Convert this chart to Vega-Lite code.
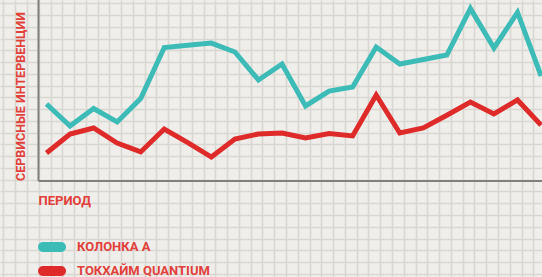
{
  "$schema": "https://vega.github.io/schema/vega-lite/v6.json",
  "width": 542,
  "height": 277,
  "autosize": "none",
  "padding": 0,
  "background": "#efeeeb",
  "config": {
    "view": {"stroke": null},
    "font": "Roboto"
  },
  "data": {
    "values": [
      {"period": 1, "series": "КОЛОНКА А", "value": 6.55},
      {"period": 2, "series": "КОЛОНКА А", "value": 4.68},
      {"period": 3, "series": "КОЛОНКА А", "value": 6.16},
      {"period": 4, "series": "КОЛОНКА А", "value": 5.02},
      {"period": 5, "series": "КОЛОНКА А", "value": 7.02},
      {"period": 6, "series": "КОЛОНКА А", "value": 11.35},
      {"period": 7, "series": "КОЛОНКА А", "value": 11.54},
      {"period": 8, "series": "КОЛОНКА А", "value": 11.73},
      {"period": 9, "series": "КОЛОНКА А", "value": 10.97},
      {"period": 10, "series": "КОЛОНКА А", "value": 8.59},
      {"period": 11, "series": "КОЛОНКА А", "value": 9.95},
      {"period": 12, "series": "КОЛОНКА А", "value": 6.38},
      {"period": 13, "series": "КОЛОНКА А", "value": 7.65},
      {"period": 14, "series": "КОЛОНКА А", "value": 7.99},
      {"period": 15, "series": "КОЛОНКА А", "value": 11.39},
      {"period": 16, "series": "КОЛОНКА А", "value": 9.95},
      {"period": 17, "series": "КОЛОНКА А", "value": 10.33},
      {"period": 18, "series": "КОЛОНКА А", "value": 10.71},
      {"period": 19, "series": "КОЛОНКА А", "value": 14.67},
      {"period": 20, "series": "КОЛОНКА А", "value": 11.31},
      {"period": 21, "series": "КОЛОНКА А", "value": 14.33},
      {"period": 22, "series": "КОЛОНКА А", "value": 8.93},
      {"period": 1, "series": "ТОКХАЙМ QUANTIUM", "value": 2.38},
      {"period": 2, "series": "ТОКХАЙМ QUANTIUM", "value": 4.0},
      {"period": 3, "series": "ТОКХАЙМ QUANTIUM", "value": 4.51},
      {"period": 4, "series": "ТОКХАЙМ QUANTIUM", "value": 3.23},
      {"period": 5, "series": "ТОКХАЙМ QUANTIUM", "value": 2.47},
      {"period": 6, "series": "ТОКХАЙМ QUANTIUM", "value": 4.42},
      {"period": 7, "series": "ТОКХАЙМ QUANTIUM", "value": 3.26},
      {"period": 8, "series": "ТОКХАЙМ QUANTIUM", "value": 2.04},
      {"period": 9, "series": "ТОКХАЙМ QUANTIUM", "value": 3.57},
      {"period": 10, "series": "ТОКХАЙМ QUANTIUM", "value": 4.0},
      {"period": 11, "series": "ТОКХАЙМ QUANTIUM", "value": 4.08},
      {"period": 12, "series": "ТОКХАЙМ QUANTIUM", "value": 3.66},
      {"period": 13, "series": "ТОКХАЙМ QUANTIUM", "value": 4.04},
      {"period": 14, "series": "ТОКХАЙМ QUANTIUM", "value": 3.83},
      {"period": 15, "series": "ТОКХАЙМ QUANTIUM", "value": 7.31},
      {"period": 16, "series": "ТОКХАЙМ QUANTIUM", "value": 4.08},
      {"period": 17, "series": "ТОКХАЙМ QUANTIUM", "value": 4.51},
      {"period": 18, "series": "ТОКХАЙМ QUANTIUM", "value": 5.59},
      {"period": 19, "series": "ТОКХАЙМ QUANTIUM", "value": 6.72},
      {"period": 20, "series": "ТОКХАЙМ QUANTIUM", "value": 5.70},
      {"period": 21, "series": "ТОКХАЙМ QUANTIUM", "value": 6.89},
      {"period": 22, "series": "ТОКХАЙМ QUANTIUM", "value": 4.76}
    ]
  },
  "layer": [
    {
      "mark": {"type": "line", "strokeWidth": 5, "strokeJoin": "miter", "strokeMiterLimit": 3},
      "encoding": {
        "x": {
          "field": "period",
          "type": "quantitative",
          "scale": {"domain": [-0.9745, 22.04], "nice": false, "zero": false},
          "axis": {
            "values": [-0.83, -0.33, 0.17, 0.67, 1.17, 1.67, 2.17, 2.67, 3.17, 3.67, 4.17, 4.67, 5.17, 5.67, 6.17, 6.67, 7.17, 7.67, 8.17, 8.67, 9.17, 9.67, 10.17, 10.67, 11.17, 11.67, 12.17, 12.67, 13.17, 13.67, 14.17, 14.67, 15.17, 15.67, 16.17, 16.67, 17.17, 17.67, 18.17, 18.67, 19.17, 19.67, 20.17, 20.67, 21.17, 21.67],
            "tickCount": 200,
            "grid": true,
            "gridColor": "#d9d7d2",
            "gridWidth": 1.6,
            "labels": false,
            "ticks": false,
            "domain": false,
            "title": "ПЕРИОД",
            "titleX": 38,
            "titleY": -77,
            "titleAlign": "left",
            "titleBaseline": "middle",
            "titleColor": "#e2403a",
            "titleFont": "Roboto",
            "titleFontSize": 13,
            "titleFontWeight": "bold"
          }
        },
        "y": {
          "field": "value",
          "type": "quantitative",
          "scale": {"domain": [-8.163, 15.391], "nice": false, "zero": false},
          "axis": {
            "values": [-7.89, -6.89, -5.89, -4.89, -3.89, -2.89, -1.89, -0.89, 0.11, 1.11, 2.11, 3.11, 4.11, 5.11, 6.11, 7.11, 8.11, 9.11, 10.11, 11.11, 12.11, 13.11, 14.11, 15.11],
            "tickCount": 100,
            "grid": true,
            "gridColor": "#d9d7d2",
            "gridWidth": 1.6,
            "labels": false,
            "ticks": false,
            "domain": false,
            "title": "СЕРВИСНЫЕ ИНТЕРВЕНЦИИ",
            "titleX": 20,
            "titleY": 96,
            "titleAngle": 270,
            "titleAlign": "center",
            "titleBaseline": "middle",
            "titleColor": "#e2403a",
            "titleFont": "Roboto",
            "titleFontSize": 12.5,
            "titleFontWeight": "bold"
          }
        },
        "color": {
          "field": "series",
          "type": "nominal",
          "scale": {"domain": ["КОЛОНКА А", "ТОКХАЙМ QUANTIUM"], "range": ["#3dbbb6", "#df2a2a"]},
          "legend": {
            "orient": "none",
            "legendX": 38,
            "legendY": 233,
            "title": null,
            "padding": 0,
            "symbolType": "M-0.643,-0.357L0.643,-0.357A0.357,0.357 0 0 1 0.643,0.357L-0.643,0.357A0.357,0.357 0 0 1 -0.643,-0.357Z",
            "symbolSize": 784,
            "symbolStrokeWidth": 0,
            "labelColor": "#e2403a",
            "labelFont": "Roboto",
            "labelFontSize": 13,
            "labelFontWeight": "bold",
            "labelOffset": 11,
            "rowPadding": 3,
            "encode": {"symbols": {"update": {"fill": {"scale": "color", "field": "value"}, "fillOpacity": {"value": 1}, "strokeWidth": {"value": 0}}}}
          }
        }
      }
    },
    {
      "data": {"values": [{}]},
      "mark": {"type": "rule", "color": "#7f7f7f", "strokeWidth": 2},
      "encoding": {
        "x": {"datum": 0.66},
        "y": {"datum": 0},
        "y2": {"datum": 15.391}
      }
    },
    {
      "data": {"values": [{}]},
      "mark": {"type": "rule", "color": "#7f7f7f", "strokeWidth": 2},
      "encoding": {
        "x": {"datum": 0.66},
        "x2": {"datum": 22.04},
        "y": {"datum": 0}
      }
    }
  ]
}
